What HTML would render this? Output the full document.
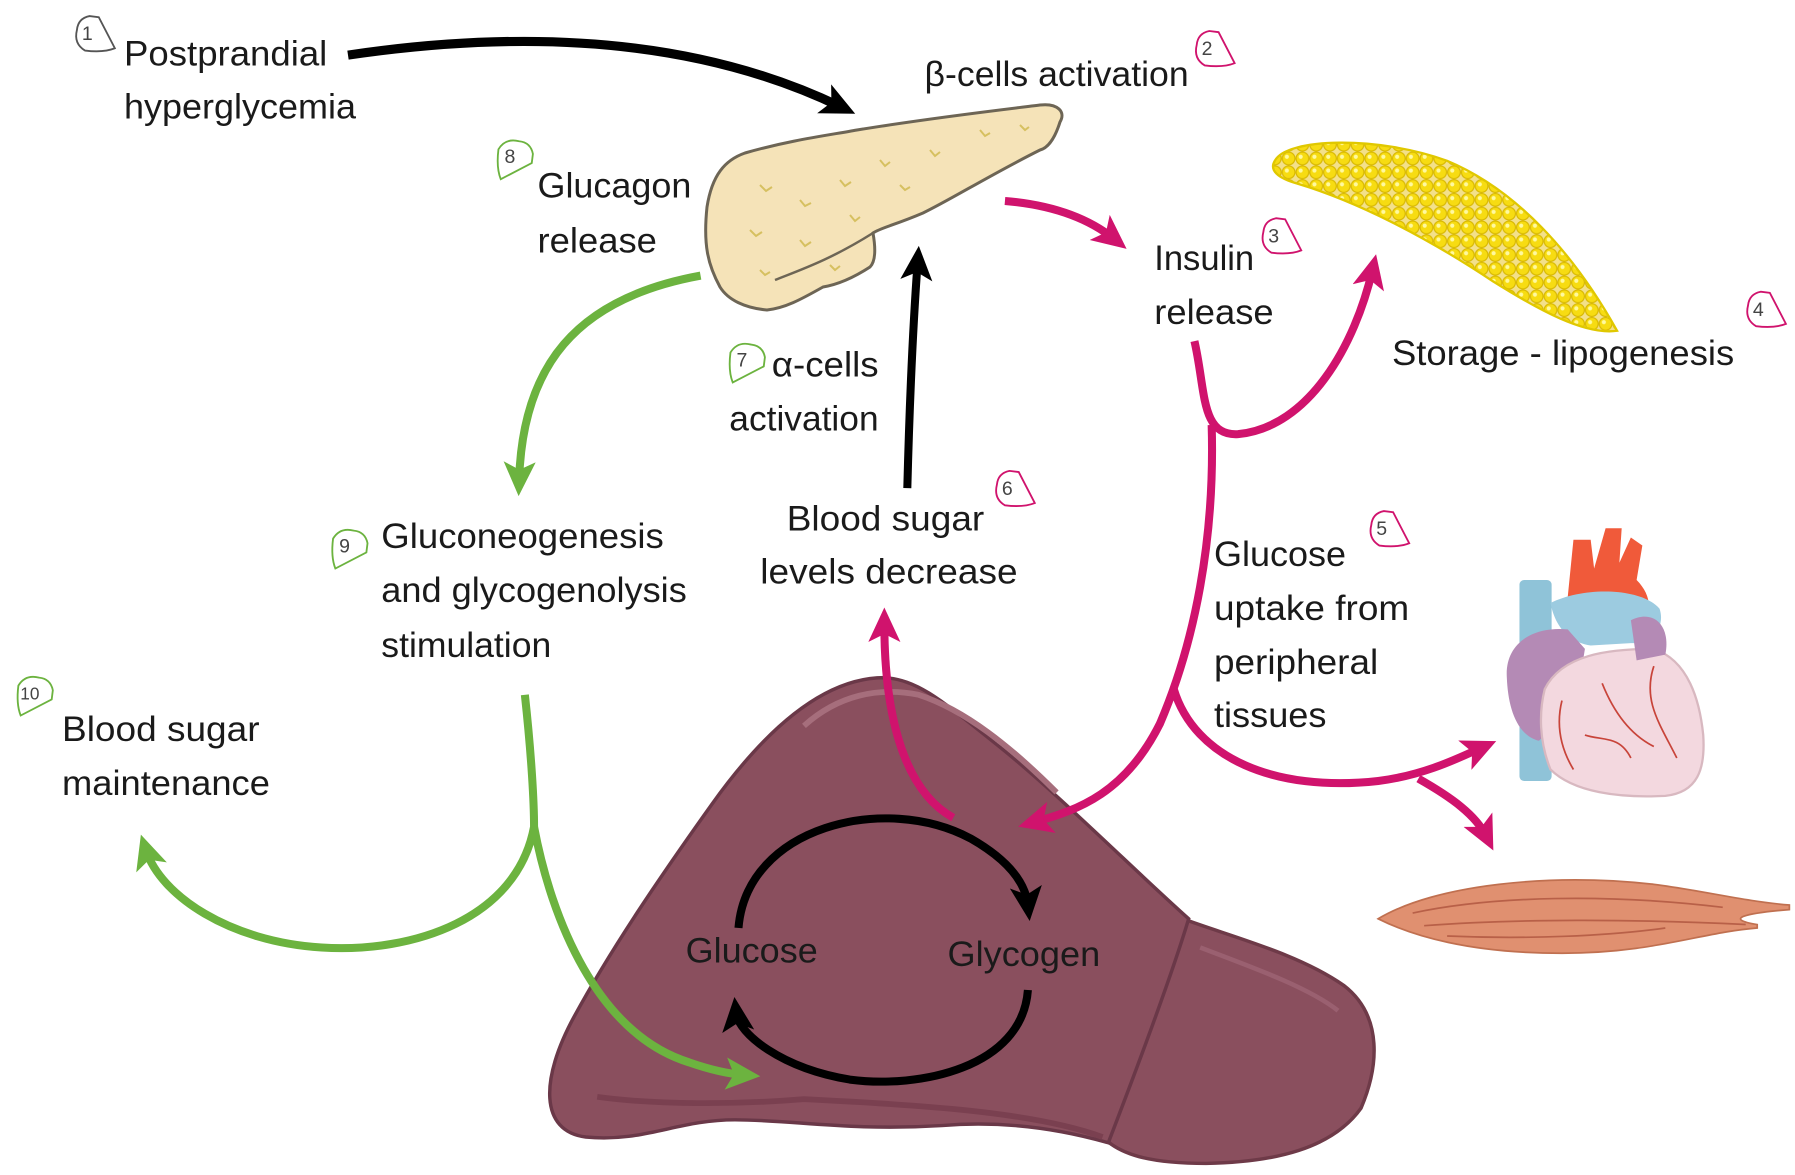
<!DOCTYPE html>
<html><head><meta charset="utf-8"><style>
html,body{margin:0;padding:0;background:#fff;}
svg{display:block;}
text{font-family:"Liberation Sans",Arial,sans-serif;fill:#1a1a1a;}
</style></head><body>
<svg width="1795" height="1175" viewBox="0 0 1795 1175" xmlns="http://www.w3.org/2000/svg">
<defs>
<marker id="ak" markerUnits="userSpaceOnUse" markerWidth="40" markerHeight="40" refX="16" refY="14" orient="auto"><path d="M0,0 L30,14 L0,28 L7,14 Z" fill="#000"/></marker>
<marker id="ap" markerUnits="userSpaceOnUse" markerWidth="40" markerHeight="40" refX="16" refY="14" orient="auto"><path d="M0,0 L30,14 L0,28 L7,14 Z" fill="#d0136d"/></marker>
<marker id="ag" markerUnits="userSpaceOnUse" markerWidth="40" markerHeight="40" refX="16" refY="14" orient="auto"><path d="M0,0 L30,14 L0,28 L7,14 Z" fill="#6cb33f"/></marker>
<pattern id="fat" width="12" height="12" patternUnits="userSpaceOnUse"><rect width="12" height="12" fill="#f3e08a"/><circle cx="6" cy="6" r="5.5" fill="#f7dc12" stroke="#d8b800" stroke-width="1"/><circle cx="4.5" cy="4.5" r="1.8" fill="#fff9a0"/></pattern>
</defs>

<!-- pancreas (original coords) -->
<path d="M707,207 C712,175 725,160 745,153 C790,140 830,135 857,130 C930,118 1000,110 1040,105 C1058,103 1066,112 1060,122 C1055,138 1048,148 1040,150 C990,175 950,200 923,213 C895,225 880,228 873,233 C876,250 875,262 870,267 C850,280 835,285 823,287 C800,300 785,308 767,310 C745,308 728,300 720,287 C708,265 703,245 707,207 Z" fill="#f5e3b8" stroke="#6d6555" stroke-width="3"/>
<path d="M775,280 C800,270 830,260 873,233" fill="none" stroke="#6d6555" stroke-width="2.5"/>
<g stroke="#d6c060" stroke-width="2" fill="none">
<path d="M760,185 l6,6 l6,-4 M800,200 l5,6 l6,-3 M840,180 l5,6 l6,-4 M880,160 l5,6 l5,-4 M930,150 l5,6 l5,-4 M980,130 l5,6 l5,-3 M750,230 l6,6 l6,-4 M800,240 l5,6 l6,-4 M850,215 l5,6 l5,-4 M900,185 l5,5 l5,-3 M760,270 l5,5 l5,-3 M830,265 l5,5 l5,-4 M1020,125 l5,5 l4,-3"/>
</g>

<g transform="scale(1.1485)">
<!-- liver -->
<path d="M1030,800 C1070,815 1130,830 1170,858 C1205,885 1200,930 1185,965 C1160,1000 1110,1012 1050,1013 C1000,1013 975,1005 960,990 Z" fill="#8a4f5e" stroke="#6e3a48" stroke-width="3"/>
<path d="M1045,825 C1090,842 1140,860 1165,880" fill="none" stroke="#9a6070" stroke-width="4"/>
<path d="M770,590 C800,592 820,610 870,650 C920,690 990,760 1035,800 C1020,850 990,930 965,995 C930,985 880,975 820,980 C740,985 690,975 640,975 C590,975 560,995 510,990 C470,985 470,940 500,885 C530,830 570,770 620,700 C670,630 720,590 770,590 Z" fill="#8a4f5e" stroke="#6a3848" stroke-width="3"/>
<path d="M700,632 C730,605 765,598 800,605 C840,618 880,650 920,690" fill="none" stroke="#a66e7c" stroke-width="5"/>
<path d="M520,955 C570,962 640,962 700,957 C800,962 900,968 960,990" fill="none" stroke="#7a4050" stroke-width="5"/>

<!-- fat -->
<path d="M1110,140 C1120,120 1200,118 1260,140 C1320,165 1370,220 1408,288 C1380,292 1340,270 1300,245 C1240,205 1180,175 1130,160 C1112,155 1105,148 1110,140 Z" fill="url(#fat)" stroke="#e0c800" stroke-width="2"/>

<!-- heart -->
<path d="M1365,520 L1370,470 L1385,470 L1388,495 L1398,460 L1412,460 L1410,490 L1420,468 L1430,475 L1425,505 C1440,520 1440,540 1420,548 L1370,545 Z" fill="#f05a3a"/>
<rect x="1323" y="505" width="28" height="175" rx="4" fill="#8fc3d8"/>
<path d="M1350,525 C1380,510 1430,512 1445,530 C1450,545 1440,560 1420,560 L1385,562 C1370,560 1355,550 1350,525 Z" fill="#9ccbe0"/>
<path d="M1312,590 C1310,560 1335,545 1365,548 L1380,565 C1375,600 1360,625 1340,645 C1320,640 1313,615 1312,590 Z" fill="#b48ab5"/>
<path d="M1345,600 C1360,570 1400,565 1440,565 C1470,575 1480,610 1483,640 C1485,670 1478,690 1450,693 C1410,695 1370,690 1350,670 C1340,645 1340,620 1345,600 Z" fill="#f3d8df" stroke="#d8b8c0" stroke-width="2"/>
<path d="M1420,540 C1440,530 1455,545 1450,570 L1425,575 Z" fill="#b48ab5"/>
<path d="M1360,610 C1355,630 1358,650 1370,670 M1395,595 C1405,620 1420,640 1440,650 M1440,580 C1430,610 1445,630 1460,660 M1380,640 C1395,645 1410,640 1420,660" fill="none" stroke="#c8443a" stroke-width="1.5"/>

<!-- muscle -->
<path d="M1200,800 C1250,770 1350,760 1440,770 C1480,775 1520,785 1558,788 L1558,792 C1520,795 1500,800 1530,805 L1530,808 C1480,812 1440,830 1360,830 C1280,830 1230,815 1200,800 Z" fill="#e09070" stroke="#c07050" stroke-width="1.5"/>
<path d="M1230,795 C1300,780 1400,778 1500,790 M1240,806 C1320,800 1420,800 1520,805 M1260,815 C1330,818 1400,815 1450,808" fill="none" stroke="#b86048" stroke-width="1.5"/>

<!-- black arrows -->
<path d="M303,48 Q560,10 732,93" fill="none" stroke="#000" stroke-width="8" marker-end="url(#ak)"/>
<path d="M790,425 Q793,310 799,228" fill="none" stroke="#000" stroke-width="7" marker-end="url(#ak)"/>
<path d="M643,808 C650,720 770,690 845,730 C880,750 893,770 895,788" fill="none" stroke="#000" stroke-width="7" marker-end="url(#ak)"/>
<path d="M895,862 C890,930 800,948 740,940 C680,930 643,900 641,882" fill="none" stroke="#000" stroke-width="7" marker-end="url(#ak)"/>

<!-- pink arrows -->
<g fill="none" stroke="#d0136d" stroke-width="7">
<path d="M875,175 Q935,180 970,208" marker-end="url(#ap)"/>
<path d="M1040,297 C1050,340 1045,380 1078,378 C1140,372 1180,300 1195,235" marker-end="url(#ap)"/>
<path d="M1055,370 C1058,470 1040,560 1010,630 C980,690 940,705 900,716" marker-end="url(#ap)"/>
<path d="M1022,600 C1040,660 1110,690 1200,680 C1240,675 1270,660 1290,651" marker-end="url(#ap)"/>
<path d="M1235,678 C1265,695 1285,710 1294,728" marker-end="url(#ap)"/>
<path d="M830,712 C790,690 770,630 770,543" marker-end="url(#ap)"/>
</g>

<!-- green arrows -->
<g fill="none" stroke="#6cb33f" stroke-width="7">
<path d="M610,240 C500,260 455,320 452,418" marker-end="url(#ag)"/>
<path d="M457,605 C463,660 465,700 465,720 C450,800 360,830 280,825 C200,820 140,780 127,740" marker-end="url(#ag)"/>
<path d="M465,720 C480,800 520,900 600,925 C620,932 635,935 648,936" marker-end="url(#ag)"/>
</g>

<!-- badges -->
<g fill="#fff" stroke-width="1.6" font-size="17">
<g transform="translate(80,32)"><path d="M-13,-6 Q-12,-16 -2,-18 L6,-17 L20,10 Q10,14 -6,12 Q-16,6 -13,-6 Z" stroke="#555"/><text x="-4" y="3" text-anchor="middle" style="fill:#444">1</text></g>
<g transform="translate(1055,45)"><path d="M-13,-6 Q-12,-16 -2,-18 L6,-17 L20,10 Q10,14 -6,12 Q-16,6 -13,-6 Z" stroke="#d0136d"/><text x="-4" y="3" text-anchor="middle" style="fill:#444">2</text></g>
<g transform="translate(1113,208)"><path d="M-13,-6 Q-12,-16 -2,-18 L6,-17 L20,10 Q10,14 -6,12 Q-16,6 -13,-6 Z" stroke="#d0136d"/><text x="-4" y="3" text-anchor="middle" style="fill:#444">3</text></g>
<g transform="translate(1535,272)"><path d="M-13,-6 Q-12,-16 -2,-18 L6,-17 L20,10 Q10,14 -6,12 Q-16,6 -13,-6 Z" stroke="#d0136d"/><text x="-4" y="3" text-anchor="middle" style="fill:#444">4</text></g>
<g transform="translate(1207,463)"><path d="M-13,-6 Q-12,-16 -2,-18 L6,-17 L20,10 Q10,14 -6,12 Q-16,6 -13,-6 Z" stroke="#d0136d"/><text x="-4" y="3" text-anchor="middle" style="fill:#444">5</text></g>
<g transform="translate(881,428)"><path d="M-13,-6 Q-12,-16 -2,-18 L6,-17 L20,10 Q10,14 -6,12 Q-16,6 -13,-6 Z" stroke="#d0136d"/><text x="-4" y="3" text-anchor="middle" style="fill:#444">6</text></g>
<g transform="translate(648,313)"><path d="M-13,-6 Q-12,-16 -2,-18 L6,-17 L20,10 Q10,14 -6,12 Q-16,6 -13,-6 Z" stroke="#6cb33f" transform="rotate(90)"/><text x="-2" y="6" text-anchor="middle" style="fill:#444">7</text></g>
<g transform="translate(446,136)"><path d="M-13,-6 Q-12,-16 -2,-18 L6,-17 L20,10 Q10,14 -6,12 Q-16,6 -13,-6 Z" stroke="#6cb33f" transform="rotate(90)"/><text x="-2" y="6" text-anchor="middle" style="fill:#444">8</text></g>
<g transform="translate(302,475)"><path d="M-13,-6 Q-12,-16 -2,-18 L6,-17 L20,10 Q10,14 -6,12 Q-16,6 -13,-6 Z" stroke="#6cb33f" transform="rotate(90)"/><text x="-2" y="6" text-anchor="middle" style="fill:#444">9</text></g>
<g transform="translate(28,603)"><path d="M-13,-6 Q-12,-16 -2,-18 L6,-17 L20,10 Q10,14 -6,12 Q-16,6 -13,-6 Z" stroke="#6cb33f" transform="rotate(90)"/><text x="-2" y="6" text-anchor="middle" style="fill:#444" font-size="15">10</text></g>
</g>

<!-- labels -->
<g font-size="31">
<text x="108" y="57" textLength="177" lengthAdjust="spacingAndGlyphs">Postprandial</text>
<text x="108" y="103" textLength="202" lengthAdjust="spacingAndGlyphs">hyperglycemia</text>
<text x="805" y="75" textLength="230" lengthAdjust="spacingAndGlyphs">β-cells activation</text>
<text x="468" y="172" textLength="134" lengthAdjust="spacingAndGlyphs">Glucagon</text>
<text x="468" y="220" textLength="104" lengthAdjust="spacingAndGlyphs">release</text>
<text x="1005" y="235" textLength="87" lengthAdjust="spacingAndGlyphs">Insulin</text>
<text x="1005" y="282" textLength="104" lengthAdjust="spacingAndGlyphs">release</text>
<text x="1212" y="318" textLength="298" lengthAdjust="spacingAndGlyphs">Storage - lipogenesis</text>
<text x="672" y="328" textLength="93" lengthAdjust="spacingAndGlyphs">α-cells</text>
<text x="635" y="375" textLength="130" lengthAdjust="spacingAndGlyphs">activation</text>
<text x="685" y="462" textLength="172" lengthAdjust="spacingAndGlyphs">Blood sugar</text>
<text x="662" y="508" textLength="224" lengthAdjust="spacingAndGlyphs">levels decrease</text>
<text x="332" y="477" textLength="246" lengthAdjust="spacingAndGlyphs">Gluconeogenesis</text>
<text x="332" y="524" textLength="266" lengthAdjust="spacingAndGlyphs">and glycogenolysis</text>
<text x="332" y="572" textLength="148" lengthAdjust="spacingAndGlyphs">stimulation</text>
<text x="54" y="645" textLength="172" lengthAdjust="spacingAndGlyphs">Blood sugar</text>
<text x="54" y="692" textLength="181" lengthAdjust="spacingAndGlyphs">maintenance</text>
<text x="1057" y="493" textLength="115" lengthAdjust="spacingAndGlyphs">Glucose</text>
<text x="1057" y="540" textLength="170" lengthAdjust="spacingAndGlyphs">uptake from</text>
<text x="1057" y="587" textLength="143" lengthAdjust="spacingAndGlyphs">peripheral</text>
<text x="1057" y="633" textLength="98" lengthAdjust="spacingAndGlyphs">tissues</text>
<text x="597" y="838" textLength="115" lengthAdjust="spacingAndGlyphs">Glucose</text>
<text x="825" y="841" textLength="133" lengthAdjust="spacingAndGlyphs">Glycogen</text>
</g>
</g>
</svg>
</body></html>
